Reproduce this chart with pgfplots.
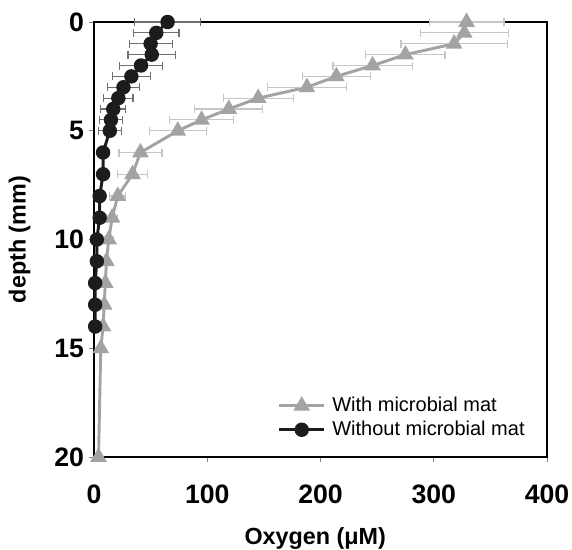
\documentclass[border=0pt]{standalone}
\usepackage{fontspec}
\setmainfont{Liberation Sans}
\usepackage{pgfplots}
\pgfplotsset{compat=1.18}
\definecolor{matgray}{HTML}{A3A3A3}
\definecolor{dotblack}{HTML}{1C1C1C}
\definecolor{barlight}{HTML}{C6C6C6}
\definecolor{bardark}{HTML}{707070}

% depth (mm), oxygen (uM), sd
\pgfplotstableread{
d    o    e
0    329  33
0.5  327  39
1    318  47
1.5  275  35
2    246  35
2.5  214  30
3    188  35
3.5  145  31
4    119  30
4.5  95   28
5    74   25
6    41   19
7    34   13
8    21   7
9    16   5
10   13   4
11   11   3
12   10   3
13   9    3
14   8    2
15   6    2
20   4    1
}\withmat

\pgfplotstableread{
d    o    e
0    65   29
0.5  55   20
1    50   19
1.5  51   21
2    41.5 19
2.5  33   17
3    26   14
3.5  21.5 13
4    17   11
4.5  15   10
5    14   10
6    8    4
7    8    3
8    5    2
9    5    2
10   2.5  1
11   2.5  1
12   1    1
13   1    1
14   1    1
}\withoutmat

\begin{document}
\begin{tikzpicture}
\begin{axis}[name=ax, scale only axis, width=339.75pt, height=326.25pt,
  xmin=0, xmax=400, ymin=0, ymax=20, y dir=reverse,
  xtick={0,100,...,400}, ytick={0,5,...,20},
  tick align=outside, tick pos=left, major tick length=4pt,
  tick style={gray, line width=0.6pt},
  axis line style={line width=2.2pt},
  /pgf/number format/assume math mode=true,
  tick label style={font=\fontsize{20}{21}\selectfont\bfseries},
  xticklabel style={yshift=-13pt},
  xlabel={Oxygen (μM)}, ylabel={depth (mm)},
  label style={font=\fontsize{17.5}{19}\selectfont\bfseries},
  xlabel style={yshift=-11pt, xshift=-4pt},
  ylabel style={yshift=11pt},
  clip=false,
  legend cell align=left,
  legend style={at={(axis cs:162,19.25)}, anchor=south west, draw=none, fill=none,
    inner sep=0pt, row sep=2pt, column sep=4pt, font=\fontsize{15}{17}\selectfont,
    nodes={inner sep=1pt, text height=11pt, text depth=3pt}},
  legend image code/.code={\draw[mark repeat=2,mark phase=2,#1]
    plot coordinates {(0pt,0pt)(16.9pt,0pt)(33.75pt,0pt)};}]

\addplot[matgray, line width=2.2pt, mark=triangle*, mark size=5pt,
  mark options={solid},
  error bars/.cd, x dir=both, x explicit, error mark=|,
  error bar style={barlight, line width=0.9pt},
  error mark options={barlight, line width=0.9pt, mark size=3pt}]
  table[x=o, y=d, x error=e] {\withmat};

\addplot[dotblack, line width=2.2pt, mark=*, mark size=4.3pt,
  mark options={solid},
  error bars/.cd, x dir=both, x explicit, error mark=|,
  error bar style={bardark, line width=0.9pt},
  error mark options={bardark, line width=0.9pt, mark size=3pt}]
  table[x=o, y=d, x error=e] {\withoutmat};

\legend{With microbial mat, Without microbial mat}
\end{axis}
\pgfresetboundingbox
\path[use as bounding box] ([xshift=-70.5pt,yshift=-69pt]ax.south west)
  rectangle ([xshift=18.75pt,yshift=16.5pt]ax.north east);
\end{tikzpicture}
\end{document}
